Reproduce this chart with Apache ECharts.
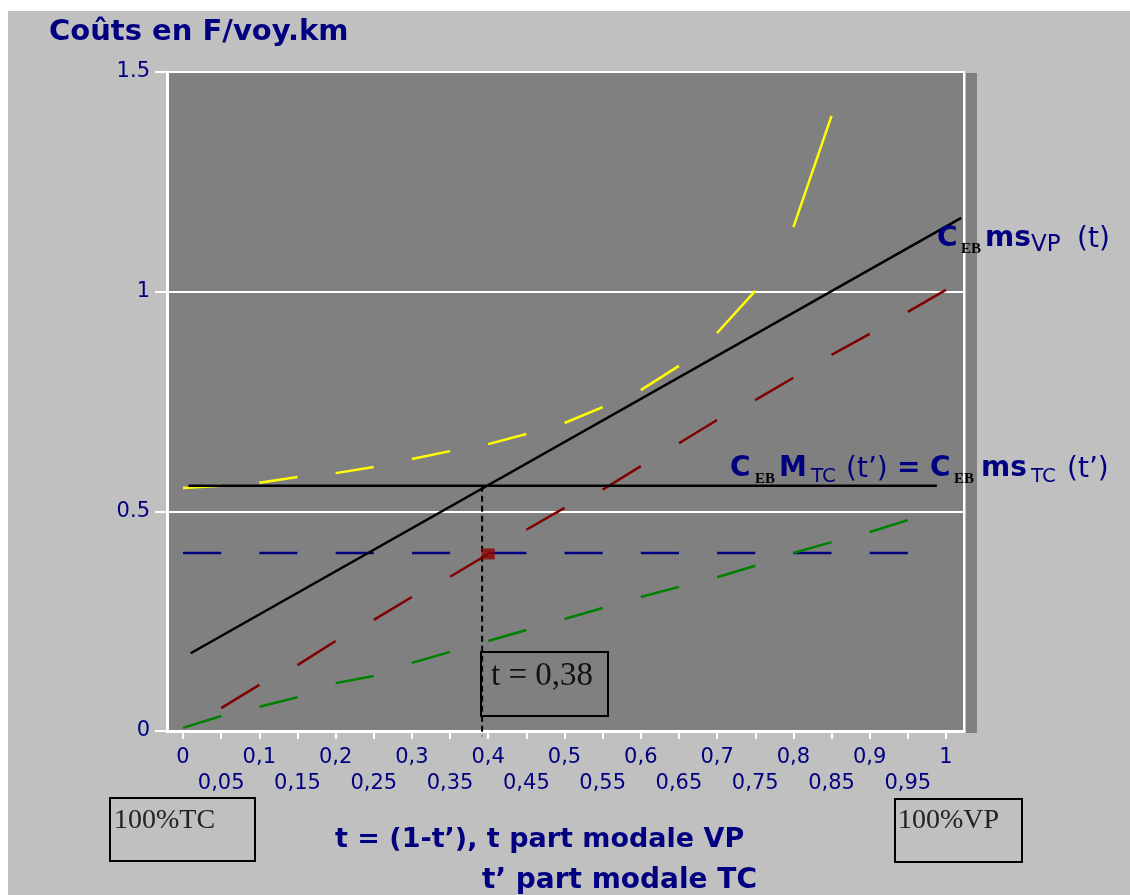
<!DOCTYPE html>
<html><head><meta charset="utf-8">
<script src="https://cdn.jsdelivr.net/npm/echarts@6/dist/echarts.min.js"></script>
<style>html,body{margin:0;padding:0;background:#fff}#c{width:1130px;height:895px}</style>
</head><body><div id="c"></div>
<script>
// ---- data ----
const T = [0,0.05,0.1,0.15,0.2,0.25,0.3,0.35,0.4,0.45,0.5,0.55,0.6,0.65,0.7,0.75,0.8,0.85,0.9,0.95,1.0];
// yellow curve, t = 0 .. 0.85
const yellowVals = [0.553,0.558,0.565,0.578,0.587,0.601,0.619,0.637,0.653,0.676,0.701,0.737,0.776,0.831,0.906,1.002,1.147,1.40];
// dark red line, t = 0.05 .. 1.0
const redVals = [0.052,0.105,0.150,0.205,0.253,0.305,0.351,0.403,0.458,0.508,0.549,0.603,0.655,0.708,0.753,0.804,0.856,0.904,0.954,1.004];
// green line, t = 0 .. 0.95
const greenVals = [0.007,0.034,0.055,0.077,0.109,0.125,0.155,0.180,0.205,0.230,0.255,0.280,0.305,0.328,0.350,0.376,0.405,0.430,0.453,0.480];
// blue dashed level, t = 0 .. 0.95
const blueVals = [0.405,0.405,0.405,0.405,0.405,0.405,0.405,0.405,0.405,0.405,0.405,0.405,0.405,0.405,0.405,0.405,0.405,0.405,0.405,0.405];
// C_EB ms_VP(t)
const blackDiag = [[0.01,0.177],[1.02,1.168]];
// C_EB M_TC(t') = C_EB ms_TC(t')
const blackHoriz = [[0.007,0.558],[0.988,0.558]];
// t = 0,38 marker
const tMark = [[0.392,0.558],[0.392,-0.012]];
const crossPoint = [[0.40,0.403]];

const xMajorTicks = [0,0.1,0.2,0.3,0.4,0.5,0.6,0.7,0.8,0.9,1];
const xMajorLabels = ['0','0,1','0,2','0,3','0,4','0,5','0,6','0,7','0,8','0,9','1'];
const xMinorTicks = [0.05,0.15,0.25,0.35,0.45,0.55,0.65,0.75,0.85,0.95];
const xMinorLabels = ['0,05','0,15','0,25','0,35','0,45','0,55','0,65','0,75','0,85','0,95'];
const yTicks = [0,0.5,1,1.5];
const yLabels = ['0','0.5','1','1.5'];

// ---- build ----
function dashes(ts, vals){
  const out=[];
  for(let i=0;i+1<ts.length;i+=2){
    out.push([ts[i],vals[i]],[ts[i+1],vals[i+1]]);
    if(i+2<ts.length) out.push([(ts[i+1]+ts[i+2])/2,'-']);
  }
  return out;
}
function lookup(ticks, labels){
  return v => { const i = ticks.findIndex(t=>Math.abs(t-v)<1e-6); return i<0?'':labels[i]; };
}
const allTicks = T.slice();
const NAVY = '#000080';
const SANS = 'DejaVu Sans';
const SERIF = 'Liberation Serif';

function txt(text, x, base, size, opt){
  opt = opt||{};
  return {type:'text', z:100, style:{text:text, x:x, y:base-0.34*size,
    font:(opt.bold?'bold ':'')+size+'px "'+(opt.family||SANS)+'"',
    fill:opt.color||NAVY, align:'left', verticalAlign:'middle'}};
}
function box(x,y,w,h){
  return {type:'rect', z:100, shape:{x:x,y:y,width:w,height:h}, style:{fill:'none', stroke:'#000', lineWidth:2}};
}

const graphics = [
  {type:'rect', z:-10, shape:{x:0,y:0,width:1130,height:11}, style:{fill:'#fff'}},
  {type:'rect', z:-10, shape:{x:0,y:0,width:8,height:895}, style:{fill:'#fff'}},
  {type:'rect', z:-5, shape:{x:966,y:73,width:11,height:660}, style:{fill:'#808080'}},
  txt('Coûts en F/voy.km', 49, 42, 29, {bold:true}),
  txt('t = (1-t’), t part modale VP', 335, 849, 27, {bold:true}),
  txt('t’ part modale TC', 482, 890, 28, {bold:true}),
  // C_EB ms_VP (t)
  txt('C', 937, 248, 28, {bold:true}),
  txt('EB', 961, 254, 15, {bold:true, family:SERIF, color:'#000'}),
  txt('ms', 985, 248, 28, {bold:true}),
  txt('VP', 1031, 253, 23),
  txt('(t)', 1077, 249, 28),
  // C_EB M_TC (t') = C_EB ms_TC (t')
  txt('C', 730, 478, 28, {bold:true}),
  txt('EB', 755, 484, 15, {bold:true, family:SERIF, color:'#000'}),
  txt('M', 779, 478, 28, {bold:true}),
  txt('TC', 811, 484, 20),
  txt('(t’)', 846, 479, 28),
  txt('=', 897, 478, 28, {bold:true}),
  txt('C', 930, 478, 28, {bold:true}),
  txt('EB', 954, 484, 15, {bold:true, family:SERIF, color:'#000'}),
  txt('ms', 981, 478, 28, {bold:true}),
  txt('TC', 1031, 484, 20),
  txt('(t’)', 1067, 479, 28),
  // t = 0,38 box
  box(481,652,127,64),
  txt('t = 0,38', 491, 688, 33, {family:SERIF, color:'#111'}),
  // 100% boxes
  box(110,798,145,63),
  txt('100%TC', 114, 830, 28, {family:SERIF, color:'#222'}),
  box(895,799,127,63),
  txt('100%VP', 898, 830, 28, {family:SERIF, color:'#222'})
];

const xCommon = {type:'value', min:-0.021, max:1.0236, gridIndex:0, position:'bottom', splitLine:{show:false}};
const labelFont = {color:NAVY, fontFamily:SANS, fontSize:21};

const option = {
  animation:false,
  backgroundColor:'#c0c0c0',
  grid:{left:167, top:72, width:797, height:659, show:true, backgroundColor:'#808080', borderColor:'#fff', borderWidth:2},
  xAxis:[
    Object.assign({}, xCommon, {
      axisLine:{show:true, onZero:false, lineStyle:{color:'#fff', width:3}},
      axisTick:{show:true, customValues:allTicks, length:8, lineStyle:{color:'#fff', width:2}},
      axisLabel:Object.assign({customValues:xMajorTicks, formatter:lookup(xMajorTicks,xMajorLabels), margin:16}, labelFont)
    }),
    Object.assign({}, xCommon, {
      axisLine:{show:false, onZero:false}, axisTick:{show:false},
      axisLabel:Object.assign({customValues:xMinorTicks, formatter:lookup(xMinorTicks,xMinorLabels), margin:42}, labelFont)
    })
  ],
  yAxis:{type:'value', min:0, max:1.5, interval:0.5,
    axisLine:{show:true, onZero:false, lineStyle:{color:'#fff', width:3}},
    axisTick:{show:true, length:12, lineStyle:{color:'#fff', width:2}},
    axisLabel:Object.assign({formatter:lookup(yTicks,yLabels), margin:17}, labelFont),
    splitLine:{show:true, lineStyle:{color:'#fff', width:2}}
  },
  graphic:graphics,
  series:[
    {type:'line', data:dashes(T.slice(0,20), blueVals), symbol:'none', connectNulls:false, lineStyle:{color:'#000080', width:2.5}},
    {type:'line', data:dashes(T.slice(0,20), greenVals), symbol:'none', connectNulls:false, lineStyle:{color:'#008000', width:2.5}},
    {type:'line', data:dashes(T.slice(1,21), redVals), symbol:'none', connectNulls:false, lineStyle:{color:'#800000', width:2.5}},
    {type:'line', data:dashes(T.slice(0,18), yellowVals), symbol:'none', connectNulls:false, lineStyle:{color:'#ffff00', width:2.5}},
    {type:'line', data:blackHoriz, symbol:'none', lineStyle:{color:'#000', width:2.5}},
    {type:'line', data:blackDiag, symbol:'none', lineStyle:{color:'#000', width:2.5}},
    {type:'line', data:tMark, symbol:'none', clip:false, lineStyle:{color:'#000', width:2, type:[6,4]}},
    {type:'scatter', data:crossPoint, symbol:'rect', symbolSize:[13,11], itemStyle:{color:'#8b0000'}, z:5}
  ]
};
const chart = echarts.init(document.getElementById('c'), null, {renderer:'canvas'});
chart.setOption(option);
</script>
</body></html>
